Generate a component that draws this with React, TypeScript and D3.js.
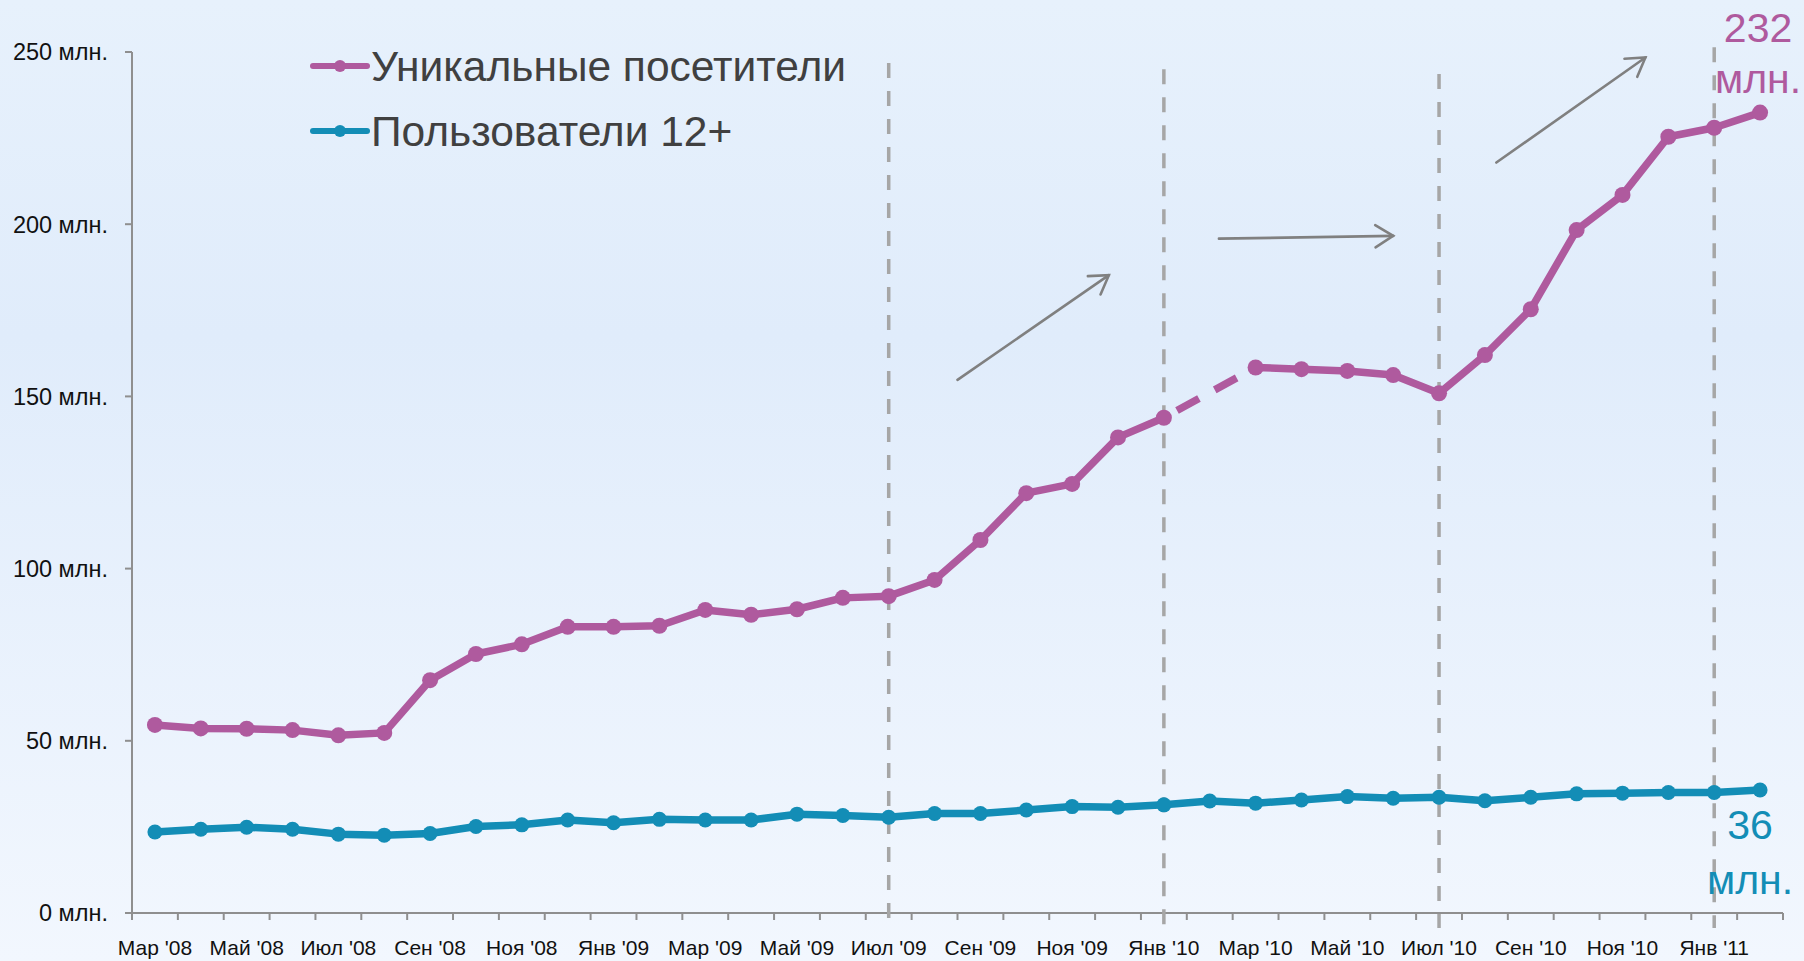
import * as d3 from "d3";

const W = 1804;
const H = 961;

const months = [
  "Мар '08", "Апр '08", "Май '08", "Июн '08", "Июл '08", "Авг '08",
  "Сен '08", "Окт '08", "Ноя '08", "Дек '08", "Янв '09", "Фев '09",
  "Мар '09", "Апр '09", "Май '09", "Июн '09", "Июл '09", "Авг '09",
  "Сен '09", "Окт '09", "Ноя '09", "Дек '09", "Янв '10", "Фев '10",
  "Мар '10", "Апр '10", "Май '10", "Июн '10", "Июл '10", "Авг '10",
  "Сен '10", "Окт '10", "Ноя '10", "Дек '10", "Янв '11", "Фев '11",
];

// millions; Feb '10 has no value for unique visitors
const uniqueVisitors: (number | null)[] = [
  54.6, 53.6, 53.5, 53.1, 51.6, 52.3, 67.6, 75.2, 78.0, 83.1, 83.1, 83.4,
  88.0, 86.6, 88.2, 91.5, 92.0, 96.7, 108.3, 121.9, 124.6, 138.1, 143.8, null,
  158.4, 157.9, 157.4, 156.2, 150.9, 162.0, 175.3, 198.3, 208.5, 225.4, 228.0, 232.4,
];

const users12: number[] = [
  23.5, 24.3, 24.9, 24.3, 22.9, 22.6, 23.1, 25.1, 25.6, 27.0, 26.2, 27.2,
  27.0, 27.0, 28.7, 28.3, 27.8, 28.9, 28.9, 29.9, 30.9, 30.7, 31.4, 32.5,
  31.9, 32.8, 33.8, 33.3, 33.6, 32.6, 33.6, 34.6, 34.8, 35.0, 35.0, 35.7,
];

const yTicks = [0, 50, 100, 150, 200, 250];

// vertical dashed markers: month + top value
const markerLines = [
  { month: "Июл '09", top: 246.8 },
  { month: "Янв '10", top: 245.0 },
  { month: "Июл '10", top: 243.6 },
  { month: "Янв '11", top: 251.4 },
];

// trend arrows in (month index, value) space
const arrows = [
  { from: [17.5, 154.8], to: [20.8, 185.2] },
  { from: [23.2, 195.8], to: [27.0, 196.6] },
  { from: [29.25, 217.9], to: [32.5, 248.4] },
];

const seriesNames = ["Уникальные посетители", "Пользователи 12+"];
const PURPLE = "#af5a9e";
const TEAL = "#138db6";
const AXIS = "#8f8f8f";
const FONT = "'Liberation Sans', Arial, sans-serif";

export default function App() {
  const x = d3.scaleBand<string>().domain(months).range([132, 1783]).padding(0);
  const bw = x.bandwidth();
  const cx = (m: string) => (x(m) ?? 0) + bw / 2;
  const xi = d3
    .scaleLinear()
    .domain([0, months.length - 1])
    .range([cx(months[0]), cx(months[months.length - 1])]);
  const y = d3.scaleLinear().domain([0, 250]).range([913, 52]);

  const line = d3
    .line<number | null>()
    .defined((d) => d !== null)
    .x((_, i) => xi(i))
    .y((d) => y(d as number));

  const gapIdx = uniqueVisitors.findIndex((v) => v === null);
  const gapLine =
    gapIdx > 0
      ? d3.line<[number, number]>()([
          [xi(gapIdx - 1), y(uniqueVisitors[gapIdx - 1] as number)],
          [xi(gapIdx + 1), y(uniqueVisitors[gapIdx + 1] as number)],
        ])
      : null;

  const boundaries = [...months.map((m) => x(m) ?? 0), x.range()[1]];
  const last = months.length - 1;

  const arrowHead = (fx: number, fy: number, tx: number, ty: number) => {
    const ang = Math.atan2(ty - fy, tx - fx);
    const len = 21;
    const spread = (32 * Math.PI) / 180;
    const a1 = [tx - len * Math.cos(ang - spread), ty - len * Math.sin(ang - spread)];
    const a2 = [tx - len * Math.cos(ang + spread), ty - len * Math.sin(ang + spread)];
    return `M${a1[0]},${a1[1]}L${tx},${ty}L${a2[0]},${a2[1]}`;
  };

  return (
    <svg
      width={W}
      height={H}
      style={{ position: "absolute", left: 0, top: 0, display: "block" }}
      fontFamily={FONT}
    >
      <defs>
        <linearGradient id="bg" x1="0" y1="0" x2="0" y2="1">
          <stop offset="0%" stopColor="#e7f1fc" />
          <stop offset="35%" stopColor="#e0ecfb" />
          <stop offset="100%" stopColor="#f2f7fe" />
        </linearGradient>
      </defs>
      <rect width={W} height={H} fill="url(#bg)" />

      {/* y axis */}
      <line x1={132} x2={132} y1={y(250)} y2={y(0)} stroke={AXIS} strokeWidth={2} />
      {yTicks.map((t) => (
        <g key={t}>
          <line x1={125} x2={132} y1={y(t)} y2={y(t)} stroke={AXIS} strokeWidth={2} />
          <text
            x={108}
            y={y(t)}
            dy="0.36em"
            textAnchor="end"
            fontSize={23.5}
            fill="#111"
          >
            {`${t} млн.`}
          </text>
        </g>
      ))}

      {/* x axis */}
      <line x1={x.range()[0]} x2={x.range()[1]} y1={y(0)} y2={y(0)} stroke={AXIS} strokeWidth={2} />
      {boundaries.map((b, i) => (
        <line key={i} x1={b} x2={b} y1={y(0)} y2={y(0) + 7} stroke={AXIS} strokeWidth={2} />
      ))}
      {months.map((m, i) =>
        i % 2 === 0 ? (
          <text key={m} x={cx(m)} y={955} textAnchor="middle" fontSize={21} fill="#111">
            {m}
          </text>
        ) : null,
      )}

      {/* dashed period markers */}
      {markerLines.map((d) => (
        <line
          key={d.month}
          x1={cx(d.month)}
          x2={cx(d.month)}
          y1={y(d.top)}
          y2={y(0) + 15}
          stroke="#a6a6a6"
          strokeWidth={3.5}
          strokeDasharray="15 13"
        />
      ))}

      {/* trend arrows */}
      {arrows.map((a, i) => {
        const fx = xi(a.from[0]);
        const fy = y(a.from[1]);
        const tx = xi(a.to[0]);
        const ty = y(a.to[1]);
        return (
          <g key={i} stroke="#808080" strokeWidth={2.6} fill="none" strokeLinecap="round">
            <line x1={fx} y1={fy} x2={tx} y2={ty} />
            <path d={arrowHead(fx, fy, tx, ty)} />
          </g>
        );
      })}

      {/* series */}
      <path d={line(users12) ?? ""} fill="none" stroke={TEAL} strokeWidth={7.5} strokeLinejoin="round" />
      {users12.map((v, i) => (
        <circle key={i} cx={xi(i)} cy={y(v)} r={7.5} fill={TEAL} />
      ))}

      {gapLine && (
        <path
          d={gapLine}
          fill="none"
          stroke={PURPLE}
          strokeWidth={7.5}
          strokeDasharray="25 18"
          strokeDashoffset={28}
        />
      )}
      <path
        d={line(uniqueVisitors) ?? ""}
        fill="none"
        stroke={PURPLE}
        strokeWidth={7.5}
        strokeLinejoin="round"
      />
      {uniqueVisitors.map((v, i) =>
        v === null ? null : <circle key={i} cx={xi(i)} cy={y(v)} r={8} fill={PURPLE} />,
      )}

      {/* end labels */}
      <g fontSize={41} textAnchor="middle" fill={PURPLE}>
        <text x={xi(last) - 2} y={y(uniqueVisitors[last] as number) - 71}>232</text>
        <text x={xi(last) - 2} y={y(uniqueVisitors[last] as number) - 20}>млн.</text>
      </g>
      <g fontSize={41} textAnchor="middle" fill={TEAL}>
        <text x={xi(last) - 10} y={y(users12[last]) + 49}>36</text>
        <text x={xi(last) - 10} y={y(users12[last]) + 104}>млн.</text>
      </g>

      {/* legend */}
      {seriesNames.map((name, i) => {
        const ly = 66 + i * 65;
        const col = i === 0 ? PURPLE : TEAL;
        return (
          <g key={name}>
            <line x1={313} x2={367} y1={ly} y2={ly} stroke={col} strokeWidth={6} strokeLinecap="round" />
            <circle cx={340} cy={ly} r={6} fill={col} />
            <text x={371} y={ly + 15} fontSize={42.5} fill="#404040">
              {name}
            </text>
          </g>
        );
      })}
    </svg>
  );
}
